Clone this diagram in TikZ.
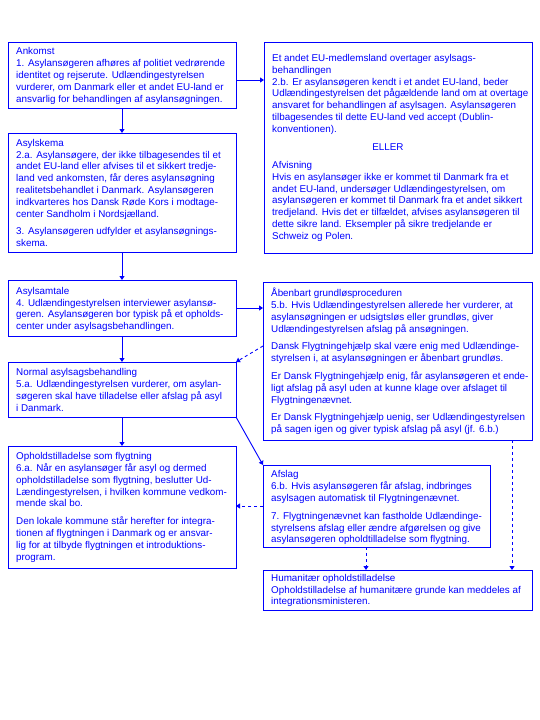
\documentclass[tikz,border=0pt]{standalone}
\usepackage{fontspec}
\setmainfont{Liberation Sans}
\usetikzlibrary{arrows.meta,calc}
\definecolor{bl}{RGB}{0,0,255}
\begin{document}
\begin{tikzpicture}[x=1pt,y=-1pt,
  box/.style={draw=bl, line width=0.9pt, anchor=north west, inner sep=0pt, outer sep=0pt},
  txt/.style={anchor=north west, inner sep=0pt, align=left, text=bl, font=\fontsize{9.85}{11.8}\selectfont},
  arr/.style={draw=bl, line width=0.9pt, -{Triangle[length=4pt,width=5pt]}},
  darr/.style={arr, dash pattern=on 3pt off 3pt}]
\useasboundingbox (0,0) rectangle (540,720);
% boxes
\node[box, minimum width=228pt, minimum height=66pt]  (ankomst) at (8,42) {};
\node[box, minimum width=268pt, minimum height=211pt] (eu)      at (264,42) {};
\node[box, minimum width=228pt, minimum height=119pt] (skema)   at (8,133) {};
\node[box, minimum width=228pt, minimum height=56pt]  (samtale) at (8,280) {};
\node[box, minimum width=228pt, minimum height=55pt]  (normal)  at (8,362) {};
\node[box, minimum width=269pt, minimum height=158pt] (aaben)   at (263,282) {};
\node[box, minimum width=228pt, minimum height=122pt] (ophold)  at (8,446) {};
\node[box, minimum width=227pt, minimum height=82pt]  (afslag)  at (263,465) {};
\node[box, minimum width=269pt, minimum height=40pt]  (human)   at (263,570) {};
% texts
\node[txt] (tankomst) at ($(ankomst.north west)+(8,4.5)$) {\strut Ankomst\\
1. Asylansøgeren afhøres af politiet vedrørende\\
identitet og rejserute. Udlændingestyrelsen\\
vurderer, om Danmark eller et andet EU-land er\\
ansvarlig for behandlingen af asylansøgningen.};
\node[txt] (teu) at ($(eu.north west)+(8,11)$) {\strut Et andet EU-medlemsland overtager asylsags-\\
behandlingen\\
2.b. Er asylansøgeren kendt i et andet EU-land, beder\\
Udlændingestyrelsen det pågældende land om at overtage\\
ansvaret for behandlingen af asylsagen. Asylansøgeren\\
tilbagesendes til dette EU-land ved accept (Dublin-\\
konventionen).};
\node[text=bl, inner sep=0pt, font=\fontsize{9.85}{11.8}\selectfont] (eller) at (388,147.3) {ELLER};
\node[txt] (tafv) at ($(eu.north west)+(8,118)$) {\strut Afvisning\\
Hvis en asylansøger ikke er kommet til Danmark fra et\\
andet EU-land, undersøger Udlændingestyrelsen, om\\
asylansøgeren er kommet til Danmark fra et andet sikkert\\
tredjeland. Hvis det er tilfældet, afvises asylansøgeren til\\
dette sikre land. Eksempler på sikre tredjelande er\\
Schweiz og Polen.};
\node[txt] (tskema) at ($(skema.north west)+(8,4.8)$) {\strut Asylskema\\
2.a. Asylansøgere, der ikke tilbagesendes til et\\
andet EU-land eller afvises til et sikkert tredje-\\
land ved ankomsten, får deres asylansøgning\\
realitetsbehandlet i Danmark. Asylansøgeren\\
indkvarteres hos Dansk Røde Kors i modtage-\\
center Sandholm i Nordsjælland.\\[6pt]
3. Asylansøgeren udfylder et asylansøgnings-\\
skema.};
\node[txt] (tsamtale) at ($(samtale.north west)+(8,5.8)$) {\strut Asylsamtale\\
4. Udlændingestyrelsen interviewer asylansø-\\
geren. Asylansøgeren bor typisk på et opholds-\\
center under asylsagsbehandlingen.};
\node[txt] (tnormal) at ($(normal.north west)+(8,5.2)$) {\strut Normal asylsagsbehandling\\
5.a. Udlændingestyrelsen vurderer, om asylan-\\
søgeren skal have tilladelse eller afslag på asyl\\
i Danmark.};
\node[txt] (taaben) at ($(aaben.north west)+(8,5.8)$) {\strut Åbenbart grundløsproceduren\\
5.b. Hvis Udlændingestyrelsen allerede her vurderer, at\\
asylansøgningen er udsigtsløs eller grundløs, giver\\
Udlændingestyrelsen afslag på ansøgningen.\\[6pt]
Dansk Flygtningehjælp skal være enig med Udlændinge-\\
styrelsen i, at asylansøgningen er åbenbart grundløs.\\[6pt]
Er Dansk Flygtningehjælp enig, får asylansøgeren et ende-\\
ligt afslag på asyl uden at kunne klage over afslaget til\\
Flygtningenævnet.\\[6pt]
Er Dansk Flygtningehjælp uenig, ser Udlændingestyrelsen\\
på sagen igen og giver typisk afslag på asyl (jf. 6.b.)};
\node[txt] (tophold) at ($(ophold.north west)+(8,5.2)$) {\strut Opholdstilladelse som flygtning\\
6.a. Når en asylansøger får asyl og dermed\\
opholdstilladelse som flygtning, beslutter Ud-\\
Lændingestyrelsen, i hvilken kommune vedkom-\\
mende skal bo.\\[6pt]
Den lokale kommune står herefter for integra-\\
tionen af flygtningen i Danmark og er ansvar-\\
lig for at tilbyde flygtningen et introduktions-\\
program.};
\node[txt] (tafslag) at ($(afslag.north west)+(8,4.5)$) {\strut Afslag\\
6.b. Hvis asylansøgeren får afslag, indbringes\\
asylsagen automatisk til Flygtningenævnet.\\[6pt]
7. Flygtningenævnet kan fastholde Udlændinge-\\
styrelsens afslag eller ændre afgørelsen og give\\
asylansøgeren opholdtilladelse som flygtning.};
\node[txt] (thuman) at ($(human.north west)+(8,2.8)$) {\strut Humanitær opholdstilladelse\\
Opholdstilladelse af humanitære grunde kan meddeles af\\
integrationsministeren.};
% helper coordinates
\coordinate (y80) at (0,80);
\coordinate (y346) at (0,346);
\coordinate (x366) at (366,0);
\coordinate (x512) at (512,0);
% connectors
\draw[arr] (ankomst.east |- y80) -- (eu.west |- y80);
\draw[arr] (ankomst.south) -- (skema.north);
\draw[arr] (skema.south) -- (samtale.north);
\draw[arr] (samtale.east) -- (aaben.west |- samtale.east);
\draw[arr] (samtale.south) -- (normal.north);
\draw[darr] (aaben.west |- y346) -- (normal.north east);
\draw[arr] (normal.south) -- (ophold.north);
\draw[arr] (normal.south east) -- (afslag.north west);
\draw[darr] (afslag.west) -- (afslag.west -| ophold.east);
\draw[darr] (afslag.south -| x366) -- (human.north -| x366);
\draw[darr] (aaben.south -| x512) -- (human.north -| x512);
\end{tikzpicture}
\end{document}
